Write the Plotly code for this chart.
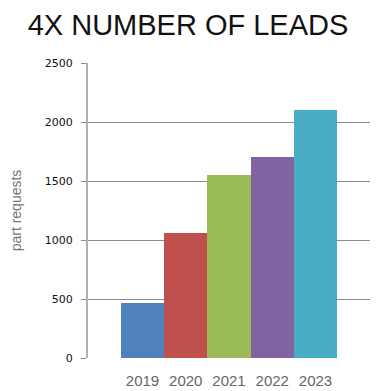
import plotly.graph_objects as go

years = ["2019", "2020", "2021", "2022", "2023"]
leads = [465, 1058, 1548, 1706, 2099]
colors = ["#4F81BD", "#C0504D", "#9BBB59", "#8064A2", "#4BACC6"]
y_ticks = [0, 500, 1000, 1500, 2000, 2500]

# page body has an 8px margin, so the figure is sized to fit the window
W, H = 374, 383

fig = go.Figure(go.Bar(
    x=years, y=leads, marker=dict(color=colors, line=dict(width=0)),
    width=1.0,
))

fig.update_layout(
    width=W, height=H,
    margin=dict(l=80, r=12, t=55, b=33, autoexpand=False),
    paper_bgcolor="white", plot_bgcolor="white",
    showlegend=False, bargap=0,
    title=dict(text="4X NUMBER OF LEADS", x=(188 - 8) / W, xanchor="center",
               xref="container", y=1 - 17 / H, yref="container", yanchor="middle",
               font=dict(family="Liberation Sans, Arial", size=29, color="#111111")),
)
fig.update_xaxes(
    type="category", range=[-1.26, 5.26], automargin=False,
    showgrid=False, zeroline=False, showline=False,
    ticks="outside", ticklen=9, tickcolor="rgba(0,0,0,0)",
    tickfont=dict(family="Liberation Sans, Arial", size=15, color="#666666"),
)
fig.update_yaxes(
    range=[0, 2500], tickvals=y_ticks, automargin=False,
    showgrid=True, gridcolor="#8c8c8c", gridwidth=1,
    zeroline=False, showline=True, linecolor="#b0b0b0", linewidth=2,
    ticks="outside", ticklen=5, tickcolor="#8c8c8c",
    ticklabelstandoff=6,
    tickfont=dict(family="DejaVu Sans, Verdana", size=11, color="#111111"),
    title=dict(text="part requests", standoff=25,
               font=dict(family="Liberation Sans, Arial", size=14, color="#777777")),
)

fig.write_html("out.html")
